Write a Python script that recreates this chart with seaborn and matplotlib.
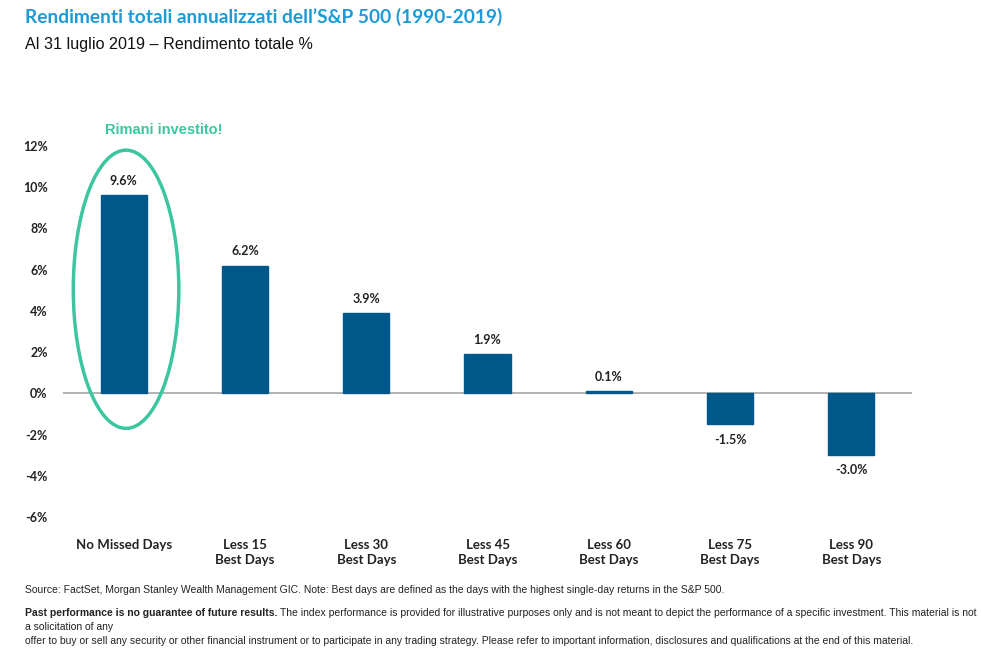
import matplotlib
matplotlib.use("Agg")
import matplotlib.pyplot as plt
from matplotlib.patches import Ellipse
import pandas as pd
import seaborn as sns

# data
categories = ["No Missed Days", "Less 15\nBest Days", "Less 30\nBest Days", "Less 45\nBest Days",
              "Less 60\nBest Days", "Less 75\nBest Days", "Less 90\nBest Days"]
returns = [9.6, 6.2, 3.9, 1.9, 0.1, -1.5, -3.0]
value_labels = ["9.6%", "6.2%", "3.9%", "1.9%", "0.1%", "-1.5%", "-3.0%"]
yticks = [-6, -4, -2, 0, 2, 4, 6, 8, 10, 12]

df = pd.DataFrame({"cat": categories, "ret": returns})

sns.set_style("white")
plt.rcParams['font.family'] = ['Lato', 'DejaVu Sans']

bar_col = "#00578a"
teal = "#3cc6a0"

fig = plt.figure(figsize=(9.81, 6.49), dpi=100)
ax = fig.add_axes([0.0642, 0.2034, 0.8655, 0.5716])

ax.axhline(0, color="#a6a6a6", lw=1.2, zorder=0)
sns.barplot(data=df, x="cat", y="ret", color=bar_col, width=0.38, saturation=1, ax=ax, zorder=3,
            edgecolor=bar_col, linewidth=1)

ax.set_xlim(-0.5, 6.5)
ax.set_ylim(-6, 12)
ax.set_yticks(yticks)
ax.set_yticklabels([f"{t}%" for t in yticks], fontsize=9, fontweight="bold", color="#222222")
ax.tick_params(axis="y", length=0, pad=11)
ax.tick_params(axis="x", length=0, pad=16)
for lab in ax.get_xticklabels():
    lab.set_fontsize(9.5)
    lab.set_fontweight("bold")
    lab.set_color("#222222")
    lab.set_verticalalignment("top")
    lab.set_linespacing(1.3)
ax.set_xlabel("")
ax.set_ylabel("")
for s in ax.spines.values():
    s.set_visible(False)

for i, (v, t) in enumerate(zip(returns, value_labels)):
    if v >= 0:
        ax.text(i, v + 0.4, t, ha="center", va="bottom", fontsize=9, fontweight="bold", color="#222222")
    else:
        ax.text(i, v - 0.45, t, ha="center", va="top", fontsize=9, fontweight="bold", color="#222222")

ell = Ellipse((0.02, 5.05), 0.87, 13.5, fill=False, edgecolor=teal, lw=2.5, clip_on=False, zorder=5)
ax.add_patch(ell)
ax.text(0.33, 12.8, "Rimani investito!", ha="center", va="center", fontsize=10.5,
        fontweight="bold", color=teal, family=["Liberation Sans", "DejaVu Sans"])

fig.text(0.0255, 0.974, "Rendimenti totali annualizzati dell\u2019S&P 500 (1990-2019)", fontsize=13.8,
         fontweight="bold", color="#1e9ad6", va="center", ha="left", family=["Lato", "DejaVu Sans"])
fig.text(0.0255, 0.932, "Al 31 luglio 2019 \u2013 Rendimento totale %", fontsize=11.6, color="#111111",
         va="center", ha="left", family=["Liberation Sans", "DejaVu Sans"])

narrow = ["Liberation Sans Narrow", "Liberation Sans", "DejaVu Sans"]
fs = 7.5
fig.text(0.0255, 0.091, "Source: FactSet, Morgan Stanley Wealth Management GIC. Note: Best days are defined as the days with the highest single-day returns in the S&P 500.",
         fontsize=fs, color="#222222", va="center", ha="left", family=narrow)
t1 = fig.text(0.0255, 0.055, "Past performance is no guarantee of future results.", fontsize=fs,
              fontweight="bold", color="#222222", va="center", ha="left", family=narrow)
fig.canvas.draw()
bb = t1.get_window_extent()
x1 = bb.x1 / fig.bbox.width
fig.text(x1 + 0.003, 0.055, "The index performance is provided for illustrative purposes only and is not meant to depict the performance of a specific investment. This material is not",
         fontsize=fs, color="#222222", va="center", ha="left", family=narrow)
fig.text(0.0255, 0.034, "a solicitation of any", fontsize=fs, color="#222222", va="center", ha="left", family=narrow)
fig.text(0.0255, 0.013, "offer to buy or sell any security or other financial instrument or to participate in any trading strategy. Please refer to important information, disclosures and qualifications at the end of this material.",
         fontsize=fs, color="#222222", va="center", ha="left", family=narrow)

fig.savefig("out.png", dpi=100)
